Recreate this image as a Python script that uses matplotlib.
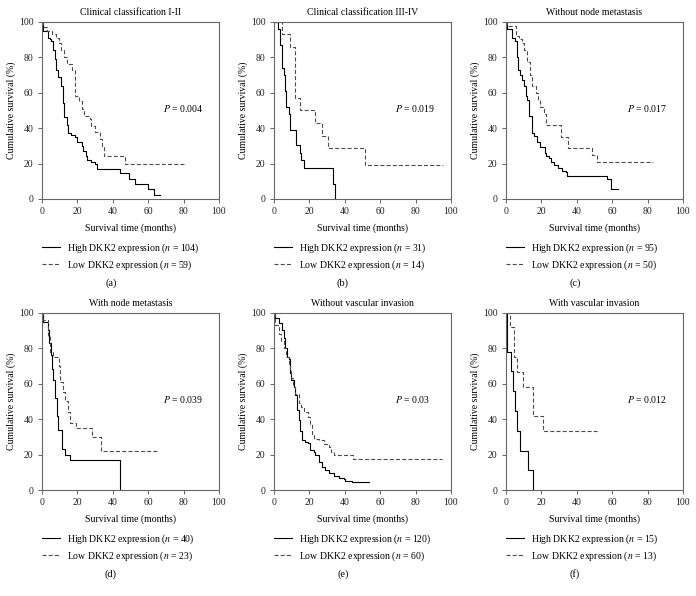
import numpy as np
import matplotlib
matplotlib.use("Agg")
import matplotlib.pyplot as plt

plt.rcParams['font.family'] = ['Liberation Serif', 'DejaVu Serif']
plt.rcParams['mathtext.fontset'] = 'stix'
plt.rcParams['font.size'] = 7

# panel titles, p values, group sizes
titles = ['Clinical classification I-II', 'Clinical classification III-IV', 'Without node metastasis',
          'With node metastasis', 'Without vascular invasion', 'With vascular invasion']
p_values = ['0.004', '0.019', '0.017', '0.039', '0.03', '0.012']
n_high = [104, 31, 95, 40, 120, 15]
n_low = [59, 14, 50, 23, 60, 13]
letters = ['(a)', '(b)', '(c)', '(d)', '(e)', '(f)']

# Kaplan-Meier curves: step times (months) and survival (%)
a_hi_t = [0, 0.6, 3.5, 4.5, 5.5, 6.5, 7.3, 8, 9.4, 11, 12, 12.8, 14, 15, 16.5, 19, 20, 22.5, 23.5, 25, 25.8, 28, 30, 31, 44, 49.5, 52.5, 60, 63.5, 67]
a_hi_s = [100, 95, 91, 90, 89, 84, 79, 73, 69, 64, 54, 46, 42, 37, 36, 35, 32, 30, 27, 24, 22, 21, 20, 17, 14.5, 11.5, 8.5, 5.5, 2.5, 2.5]
a_lo_t = [0, 1, 3, 6, 8, 10, 11, 12.5, 14, 17, 18.5, 19, 21, 23, 24, 27, 28, 30, 33, 34, 35, 47, 81]
a_lo_s = [100, 97, 95, 93, 91, 88, 84, 80, 76, 73, 70, 58, 55, 51, 47, 45, 41, 38, 34, 30, 24, 19.5, 19.5]

b_hi_t = [0, 2.4, 3.8, 4.7, 5.6, 6.6, 7.1, 8.5, 9.4, 12.6, 14.7, 15.4, 17, 33.3, 34.8]
b_hi_s = [100, 96, 87, 74, 70, 61, 52, 48, 39, 30.5, 26, 22, 17.4, 8.7, 0]
b_lo_t = [0, 4.7, 9.4, 11.8, 14.7, 23.5, 27, 30.6, 51.7, 95.3]
b_lo_s = [100, 92.9, 85.7, 57.1, 50, 42.9, 35.7, 28.6, 19, 19]

c_hi_t = [0, 0.5, 3.5, 5.3, 6.2, 7.1, 8, 9.4, 10.3, 11.3, 12.2, 13.2, 14.7, 16, 17.9, 19.4, 22, 23, 24.4, 25.8, 27.3, 29.7, 32, 33.8, 34.8, 57, 59.6, 63.5]
c_hi_s = [100, 96, 91, 89, 80, 73, 70, 67, 64, 58, 56, 47, 37, 35.5, 32, 29.5, 26, 24.5, 23, 21, 19, 17.5, 16, 15, 13.2, 11, 5.6, 5.6]
c_lo_t = [0, 0.5, 5.6, 7.5, 9.4, 10.3, 12.2, 13.5, 14.7, 17, 18.2, 19.4, 21.6, 22.6, 31, 35.2, 48.9, 51.3, 83.3]
c_lo_s = [100, 97.5, 92, 90, 88, 84, 77, 70, 64, 60, 56, 52, 48, 41.5, 35, 29, 25, 21, 21]

d_hi_t = [0, 0.6, 3.5, 4.2, 5, 5.8, 6.6, 7.5, 8.5, 9.4, 11.3, 13.2, 16, 44.2]
d_hi_s = [100, 95, 90, 83, 76, 68, 62, 52, 42, 34, 23, 20, 17, 0]
d_lo_t = [0, 1, 3.8, 4.5, 6.6, 10, 10.3, 11.8, 13.2, 15, 16, 19.4, 28.2, 33.3, 65.8]
d_lo_s = [100, 96, 87, 78, 75, 70, 61, 55, 50, 44, 38, 35, 30, 22, 22]

e_hi_t = [0, 0.5, 2.8, 4.7, 5.6, 6.6, 7.5, 8.5, 9.4, 10, 11.3, 12.2, 13.2, 14.1, 15, 16, 17.9, 19.4, 20.7, 22.6, 23.5, 25.4, 27.3, 29.1, 31, 33.8, 36.7, 39.5, 40.4, 44, 54]
e_hi_s = [100, 97, 94, 90, 86, 80, 75, 73.7, 65.8, 62, 58, 53.6, 45, 39.5, 33, 28, 27.3, 26.3, 22.6, 21.6, 19.7, 16, 13, 11.3, 9.4, 7.9, 6.6, 6, 5.3, 4.5, 4.5]
e_lo_t = [0, 0.5, 2.8, 4.3, 5.6, 7.1, 8.5, 9.4, 10, 10.9, 12.2, 14.1, 15.4, 17, 19.4, 20.7, 21.6, 22.6, 25.4, 28.2, 31, 32.5, 33.8, 45, 95]
e_lo_s = [100, 93, 88, 84, 80, 75, 71, 67, 63, 58, 54, 49, 47, 44, 41, 37, 31, 29, 28, 26, 24, 21.5, 20, 17.5, 17.5]

f_hi_t = [0, 0.5, 1, 2.8, 4.3, 5.1, 6.6, 7.9, 12.8, 15.6]
f_hi_s = [100, 89, 78, 67, 55.6, 44.4, 33.3, 22.2, 11.1, 0]
f_lo_t = [0, 2.3, 4.7, 6.6, 10, 15.6, 21, 51.7]
f_lo_s = [100, 91.7, 75, 66.7, 58.3, 41.7, 33.3, 33.3]

high_curves = [(a_hi_t, a_hi_s), (b_hi_t, b_hi_s), (c_hi_t, c_hi_s),
               (d_hi_t, d_hi_s), (e_hi_t, e_hi_s), (f_hi_t, f_hi_s)]
low_curves = [(a_lo_t, a_lo_s), (b_lo_t, b_lo_s), (c_lo_t, c_lo_s),
              (d_lo_t, d_lo_s), (e_lo_t, e_lo_s), (f_lo_t, f_lo_s)]

fig = plt.figure(figsize=(6.96, 5.96), dpi=100)

W, H = 696.0, 596.0
lefts = [41.7, 273.7, 505.7]
bottoms = [199.0, 490.0]
size = 177.3
gray = '#666666'

for i in range(6):
    row, col = divmod(i, 3)
    ax = fig.add_axes([lefts[col] / W, 1 - bottoms[row] / H, size / W, size / H])

    t, s = high_curves[i]
    ax.step(t, s, where='post', color='black', lw=0.8,
            label=r'High DKK2 expression ($n$ = %d)' % n_high[i])
    t, s = low_curves[i]
    ax.step(t, s, where='post', color='#4a4a4a', lw=0.8, linestyle=(0, (3.6, 2.0)),
            label=r'Low DKK2 expression ($n$ = %d)' % n_low[i])

    ax.set_xlim(0, 100)
    ax.set_ylim(0, 100)
    ax.set_xticks([0, 20, 40, 60, 80, 100])
    ax.set_yticks([0, 20, 40, 60, 80, 100])
    for sp in ax.spines.values():
        sp.set_color(gray)
        sp.set_linewidth(0.8)
    ax.tick_params(direction='out', length=3, width=0.7, color=gray, pad=3, labelcolor='#222222')

    ax.set_title(titles[i], pad=5, fontsize=7)
    ax.set_xlabel('Survival time (months)', labelpad=5)
    ax.set_ylabel('Cumulative survival (%)', labelpad=2)
    ax.text(68.5, 51.3, r'$P$ = ' + p_values[i], ha='left', va='center')

    ax.legend(loc='center left', bbox_to_anchor=(0, -0.324), frameon=False,
              borderpad=0, borderaxespad=0, handlelength=1.85, handletextpad=0.72,
              labelspacing=0.34)
    ax.text(0.39, -0.474, letters[i], transform=ax.transAxes, ha='center', va='center',
            fontsize=7.5)

plt.savefig('out.png', dpi=100)
